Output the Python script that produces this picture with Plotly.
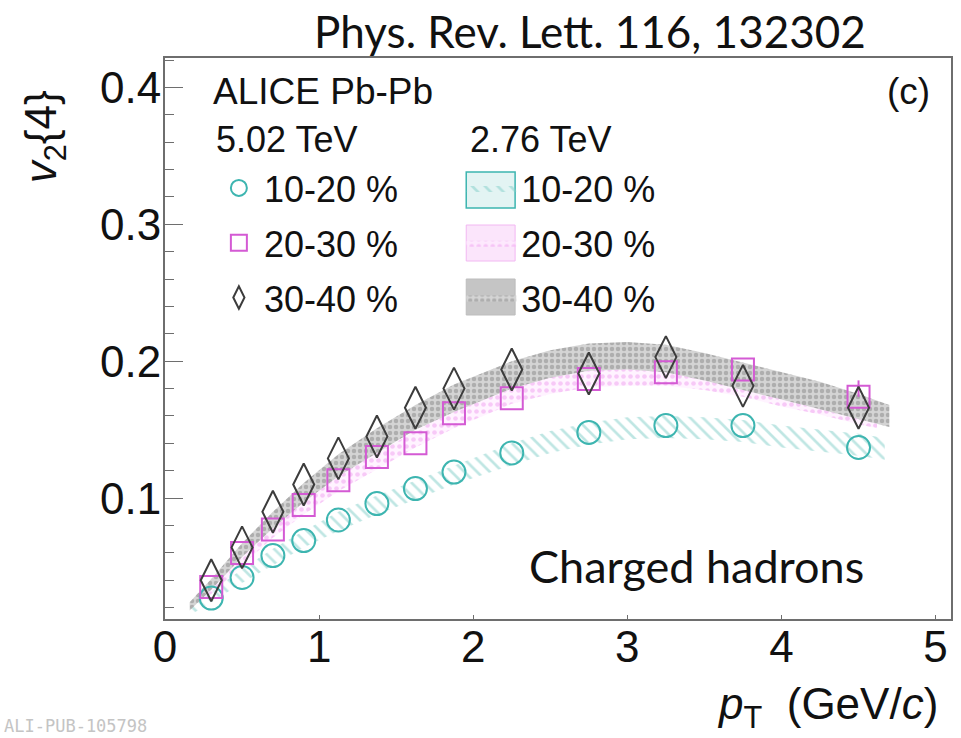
import plotly.graph_objects as go

# ---------------- data ----------------
pt = [0.3, 0.5, 0.7, 0.9, 1.125, 1.375, 1.625, 1.875, 2.25, 2.75, 3.25, 3.75, 4.5]
v2_1020 = [0.027, 0.042, 0.058, 0.069, 0.084, 0.096, 0.107, 0.119, 0.133, 0.148, 0.153, 0.153, 0.137]
v2_2030 = [0.035, 0.060, 0.077, 0.095, 0.113, 0.130, 0.140, 0.162, 0.173, 0.187, 0.192, 0.194, 0.174]
err_2030 = [0, 0, 0, 0, 0, 0, 0, 0, 0, 0, 0, 0, 0.012]
v2_3040 = [0.040, 0.064, 0.090, 0.110, 0.129, 0.145, 0.166, 0.180, 0.194, 0.191, 0.203, 0.182, 0.166]

# 2.76 TeV bands (lower / upper edges)
band_x_1020 = [0.17, 0.3, 0.5, 0.7, 0.9, 1.125, 1.375, 1.625, 1.875, 2.25, 2.5, 2.75, 3.0, 3.25, 3.5, 3.75, 4.0, 4.25, 4.5, 4.67]
band_lo_1020 = [0.015, 0.024, 0.038, 0.051, 0.064, 0.076, 0.088, 0.099, 0.110, 0.124, 0.133, 0.139, 0.143, 0.144, 0.143, 0.141, 0.137, 0.134, 0.131, 0.128]
band_hi_1020 = [0.021, 0.032, 0.048, 0.063, 0.076, 0.090, 0.102, 0.113, 0.124, 0.140, 0.149, 0.155, 0.159, 0.160, 0.159, 0.157, 0.153, 0.150, 0.147, 0.144]

band_x_2030 = [0.2, 0.3, 0.5, 0.7, 0.9, 1.125, 1.375, 1.625, 1.875, 2.25, 2.5, 2.75, 3.0, 3.25, 3.5, 3.75, 4.0, 4.25, 4.5, 4.62]
band_lo_2030 = [0.023, 0.030, 0.051, 0.071, 0.088, 0.105, 0.121, 0.137, 0.151, 0.169, 0.176, 0.181, 0.182, 0.182, 0.179, 0.174, 0.167, 0.161, 0.154, 0.151]
band_hi_2030 = [0.029, 0.038, 0.061, 0.081, 0.100, 0.117, 0.133, 0.149, 0.165, 0.183, 0.190, 0.195, 0.196, 0.196, 0.193, 0.188, 0.181, 0.173, 0.166, 0.163]

band_x_3040 = [0.16, 0.3, 0.5, 0.7, 0.9, 1.125, 1.375, 1.625, 1.875, 2.25, 2.5, 2.75, 3.0, 3.25, 3.5, 3.75, 4.0, 4.25, 4.5, 4.7]
band_lo_3040 = [0.018, 0.033, 0.057, 0.078, 0.097, 0.116, 0.133, 0.150, 0.163, 0.180, 0.188, 0.193, 0.194, 0.192, 0.186, 0.179, 0.172, 0.165, 0.158, 0.152]
band_hi_3040 = [0.024, 0.041, 0.067, 0.090, 0.111, 0.132, 0.151, 0.168, 0.183, 0.200, 0.208, 0.213, 0.214, 0.212, 0.206, 0.199, 0.192, 0.185, 0.176, 0.168]

centralities = ["10-20 %", "20-30 %", "30-40 %"]
x_ticks = [0, 1, 2, 3, 4, 5]
y_ticks = [0.1, 0.2, 0.3, 0.4]

# ---------------- styles ----------------
CYAN = "#3db5b0"
MAGENTA = "#d45ad4"
DARK = "#3c3c3c"
FONT = "Liberation Sans"
AXC = "#6e6e6e"

fig = go.Figure()

def band(xs, lo, hi, name, pattern, grp):
    fig.add_trace(go.Scatter(
        x=list(xs) + list(xs)[::-1],
        y=list(hi) + list(lo)[::-1],
        fill="toself", mode="lines", line=dict(width=0),
        fillcolor="rgba(255,255,255,0)", fillpattern=pattern,
        name=name, legend="legend2", legendgroup=grp, hoverinfo="skip"))

PAT_C = dict(shape="\\", fgcolor="#7fcdc8", bgcolor="rgba(255,255,255,0)", size=9, solidity=0.3)
PAT_M = dict(shape=".", fgcolor="#f0a0f0", bgcolor="rgba(255,235,255,0.6)", size=7, solidity=0.35)
PAT_G = dict(shape=".", fgcolor="#888888", bgcolor="#d4d4d4", size=6, solidity=0.45)
band(band_x_1020, band_lo_1020, band_hi_1020, centralities[0], PAT_C, "b1")
band(band_x_2030, band_lo_2030, band_hi_2030, centralities[1], PAT_M, "b2")
band(band_x_3040, band_lo_3040, band_hi_3040, centralities[2], PAT_G, "b3")

def pts(y, name, symbol, color, size, grp, err=None):
    fig.add_trace(go.Scatter(
        x=pt, y=y, mode="markers", name=name, legend="legend", legendgroup=grp,
        error_y=(dict(type="data", array=err, color=color, thickness=2, width=0, symmetric=False,
                      arrayminus=[0] * len(err)) if err else None),
        marker=dict(symbol=symbol, size=size, color=color,
                    line=dict(color=color, width=2))))

pts(v2_1020, centralities[0], "circle-open", CYAN, 23, "m1")
pts(v2_2030, centralities[1], "square-open", MAGENTA, 22, "m2", err_2030)
pts(v2_3040, centralities[2], "diamond-tall-open", DARK, 30, "m3")

axis_common = dict(showgrid=False, zeroline=False, showline=True, linecolor=AXC,
                   linewidth=2, mirror=True, ticks="inside", tickcolor=AXC,
                   tickfont=dict(family=FONT, size=44, color="#111"))

fig.update_xaxes(range=[0, 5.1], tickvals=x_ticks, ticklen=4, ticklabelstandoff=-12, **axis_common)
fig.update_yaxes(range=[0.0117, 0.4215], tickvals=y_ticks, ticklen=18, tickformat=".1f",
                 minor=dict(dtick=0.02, tick0=0, ticklen=9, ticks="inside", tickcolor=AXC),
                 ticklabelstandoff=-7, **axis_common)

legend_common = dict(font=dict(family=FONT, size=36, color="#111"), bgcolor="rgba(0,0,0,0)",
                     borderwidth=0, tracegroupgap=5, xanchor="left", yanchor="top")

W, H = 788.0, 561.0
def px(xp): return (xp - 165) / W
def py(yp): return (619 - yp) / H

fig.update_layout(
    width=961, height=738,
    margin=dict(l=165, r=8, t=58, b=119),
    paper_bgcolor="white", plot_bgcolor="white",
    legend=dict(x=px(214), y=py(158), itemsizing="trace", itemwidth=40, **legend_common),
    legend2=dict(x=px(462), y=py(158), itemwidth=50, **legend_common),
    showlegend=True,
)

# larger legend swatch boxes behind the 2.76 TeV legend keys
swatch_rows = [190, 243, 297]
swatch_styles = [
    dict(line=dict(color=CYAN, width=1.5), fillcolor="rgba(127,205,200,0.22)"),
    dict(line=dict(color="#f2b8f2", width=1), fillcolor="rgba(240,160,240,0.28)"),
    dict(line=dict(color="#bdbdbd", width=1), fillcolor="rgba(150,150,150,0.55)"),
]
for yc, st in zip(swatch_rows, swatch_styles):
    fig.add_shape(type="rect", xref="paper", yref="paper", layer="above",
                  x0=px(467), x1=px(516), y0=py(yc + 18), y1=py(yc - 18), **st)

def ann(text, x, y, size, xanchor="left", yanchor="middle", family=FONT, color="#111", angle=0):
    fig.add_annotation(text=text, x=x, y=y, xref="paper", yref="paper", showarrow=False,
                       xanchor=xanchor, yanchor=yanchor, textangle=angle,
                       font=dict(family=family, size=size, color=color))

ann("ALICE Pb-Pb", px(211), py(92), 37)
ann("5.02 TeV", px(214), py(139), 36)
ann("2.76 TeV", px(469), py(139), 36)
ann("(c)", px(934), py(92), 37, xanchor="right")
ann("Charged hadrons", px(868), py(566), 45, xanchor="right", family="Lato")
ann("Phys. Rev. Lett. 116, 132302", px(591), py(31), 44, xanchor="center", family="Lato")
ann("<i>v</i><sub>2</sub>{4}", px(44), py(137), 44, xanchor="center", angle=-90)
ann("<i>p</i><sub>T</sub>&nbsp; (GeV/<i>c</i>)", px(942), py(707), 44, xanchor="right")
ann("ALI-PUB-105798", px(2), py(738), 17, yanchor="bottom", color="#c4c4c4", family="DejaVu Sans Mono")

fig.write_html("out.html")
